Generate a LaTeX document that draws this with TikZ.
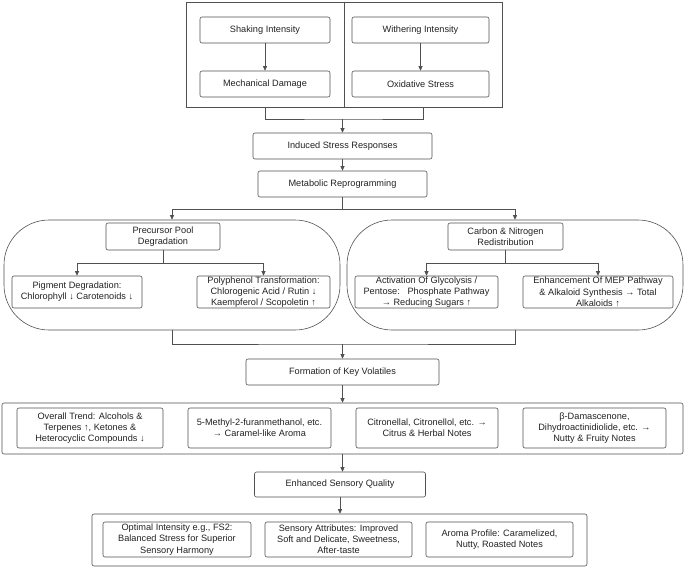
\documentclass[tikz,border=0pt]{standalone}
\usepackage{fontspec}
\setmainfont{Liberation Sans}
\usetikzlibrary{arrows.meta}
\definecolor{linegray}{HTML}{505050}
\definecolor{txtgray}{HTML}{222222}
\begin{document}
\begin{tikzpicture}[x=1pt,y=-1pt,
    box/.style={draw=linegray,line width=0.6pt,rounded corners=2pt,align=center,inner sep=0pt,
        text=txtgray,font=\fontsize{9.2}{11.2}\selectfont},
    grp/.style={draw=linegray,line width=0.6pt,inner sep=0pt},
    pool/.style={draw=linegray,line width=0.6pt,inner sep=0pt,rounded corners=45pt},
    link/.style={draw=linegray,line width=0.6pt},
    arr/.style={link,-{Triangle[length=4.5pt,width=4pt]}}]
    \useasboundingbox (0,0) rectangle (685,567);

    \node[grp,minimum width=158,minimum height=105] (shakeGrp) at (265,54.5) {};
    \node[grp,minimum width=158,minimum height=105] (witherGrp) at (423,54.5) {};
    \node[box,minimum width=130,minimum height=26] (shake) at (265,30) {Shaking Intensity};
    \node[box,minimum width=130,minimum height=26] (mech) at (265,84) {Mechanical Damage};
    \node[box,minimum width=137,minimum height=26] (wither) at (420.5,30) {Withering Intensity};
    \node[box,minimum width=137,minimum height=26] (oxid) at (420.5,84) {Oxidative Stress};
    \coordinate (join1) at (342.5,119);

    \node[box,minimum width=179,minimum height=26] (induced) at (342.5,146) {Induced Stress Responses};
    \node[box,minimum width=169,minimum height=26] (metab) at (342.5,184) {Metabolic Reprogramming};
    \coordinate (split1) at (342.5,209);

    \node[pool,minimum width=336,minimum height=110] (precGrp) at (172,275) {};
    \node[pool,minimum width=336,minimum height=110] (carbGrp) at (515,275) {};
    \node[box,minimum width=114,minimum height=27] (prec) at (163,236.5) {Precursor Pool\\Degradation};
    \node[box,minimum width=130,minimum height=32] (pigment) at (77,292) {Pigment Degradation:\\Chlorophyll ↓ Carotenoids ↓};
    \node[box,minimum width=133,minimum height=32] (polyph) at (263.5,292) {Polyphenol Transformation:\\Chlorogenic Acid / Rutin ↓\\Kaempferol / Scopoletin ↑};
    \coordinate (split2) at (163,263);
    \node[box,minimum width=115,minimum height=27] (carb) at (505.5,236.5) {Carbon \& Nitrogen\\Redistribution};
    \node[box,minimum width=143,minimum height=32] (glyco) at (426.5,292) {Activation Of Glycolysis /\\Pentose:\ \ \ Phosphate Pathway\\→ Reducing Sugars ↑};
    \node[box,minimum width=150,minimum height=32] (mep) at (598,292) {Enhancement Of MEP Pathway\\\& Alkaloid Synthesis → Total\\Alkaloids ↑};
    \coordinate (split3) at (505.5,263);
    \coordinate (join2) at (342.5,344);

    \node[box,minimum width=193,minimum height=26] (form) at (342.5,372) {Formation of Key Volatiles};
    \node[box,minimum width=681,minimum height=51] (volGrp) at (342.5,428.5) {};
    \node[box,minimum width=146,minimum height=40] (trend) at (90,428) {Overall Trend: Alcohols \&\\Terpenes ↑, Ketones \&\\Heterocyclic Compounds ↓};
    \node[box,minimum width=143,minimum height=40] (furan) at (259.5,428) {5-Methyl-2-furanmethanol, etc.\\→ Caramel-like Aroma};
    \node[box,minimum width=142,minimum height=40] (citro) at (427,428) {Citronellal, Citronellol, etc. →\\Citrus \& Herbal Notes};
    \node[box,minimum width=143,minimum height=40] (damas) at (594.5,428) {β-Damascenone,\\Dihydroactinidiolide, etc. →\\Nutty \& Fruity Notes};

    \node[box,minimum width=171,minimum height=25] (sens) at (340,484.5) {Enhanced Sensory Quality};
    \node[box,minimum width=495,minimum height=52] (qualGrp) at (339.5,540) {};
    \node[box,minimum width=148,minimum height=35] (optimal) at (177,539.5) {Optimal Intensity e.g., FS2:\\Balanced Stress for Superior\\Sensory Harmony};
    \node[box,minimum width=147,minimum height=35] (attrib) at (338.5,539.5) {Sensory Attributes: Improved\\Soft and Delicate, Sweetness,\\After-taste};
    \node[box,minimum width=147,minimum height=35] (aroma) at (499.5,539.5) {Aroma Profile: Caramelized,\\Nutty, Roasted Notes};

    \draw[arr] (shake) -- (mech);
    \draw[arr] (wither) -- (oxid);
    \draw[link] (shakeGrp.south) |- (join1) -| (witherGrp.south);
    \draw[arr] (join1) -- (induced);
    \draw[arr] (induced) -- (metab);
    \draw[link] (metab) -- (split1);
    \draw[arr] (split1) -| (precGrp.north);
    \draw[arr] (split1) -| (carbGrp.north);
    \draw[link] (prec) -- (split2);
    \draw[arr] (split2) -| (pigment.north);
    \draw[arr] (split2) -| (polyph.north);
    \draw[link] (carb) -- (split3);
    \draw[arr] (split3) -| (glyco.north);
    \draw[arr] (split3) -| (mep.north);
    \draw[link] (precGrp.south) |- (join2) -| (carbGrp.south);
    \draw[arr] (join2) -- (form);
    \draw[arr] (form) -- (volGrp);
    \draw[arr] (volGrp.south) -- (volGrp.south |- sens.north);
    \draw[arr] (sens.south) -- (sens.south |- qualGrp.north);
\end{tikzpicture}
\end{document}
